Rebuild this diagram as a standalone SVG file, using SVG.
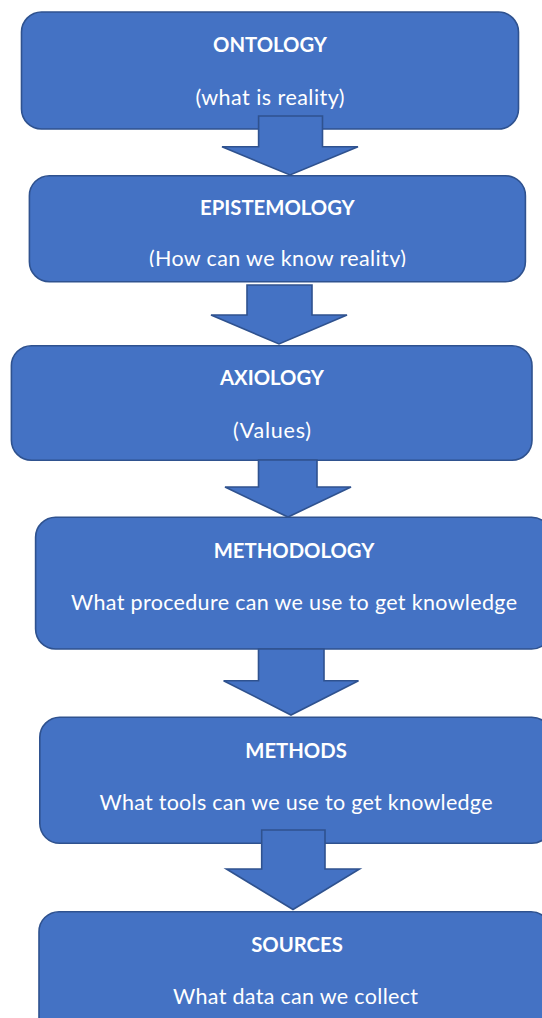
<svg xmlns="http://www.w3.org/2000/svg" width="542" height="1018" viewBox="0 0 542 1018">
<style>
.box{fill:#4472C4;stroke:#2F528F;stroke-width:1.6}
.arr{fill:#4472C4;stroke:#2F528F;stroke-width:1.6;stroke-linejoin:miter}
.t{font-family:Lato,"Liberation Sans",sans-serif;font-size:21.5px;fill:#ffffff;text-anchor:middle}
.b{font-weight:bold;font-size:20.3px}
</style>
<defs>
<clipPath id="clipEpi"><rect x="0" y="170" width="542" height="97"/></clipPath>
</defs>
<rect width="542" height="1018" fill="#ffffff"/>
<g id="ontology">
<rect class="box" x="21.5" y="12" width="497" height="117" rx="20"/>
<text class="t b" x="270" y="52">ONTOLOGY</text>
<text class="t" x="270" y="105" textLength="149">(what is reality)</text>
</g>
<g id="epistemology">
<rect class="box" x="29.4" y="175.7" width="496" height="106" rx="20"/>
<text class="t b" x="277.4" y="215">EPISTEMOLOGY</text>
<text class="t" x="277.4" y="266" textLength="257" clip-path="url(#clipEpi)">(How can we know reality)</text>
</g>
<g id="axiology">
<rect class="box" x="11.4" y="345.7" width="520.6" height="114.5" rx="20"/>
<text class="t b" x="272" y="385">AXIOLOGY</text>
<text class="t" x="272" y="438" textLength="78">(Values)</text>
</g>
<g id="methodology">
<rect class="box" x="35.6" y="517.3" width="516" height="131.7" rx="20"/>
<text class="t b" x="294" y="558">METHODOLOGY</text>
<text class="t" x="294" y="610" textLength="446">What procedure can we use to get knowledge</text>
</g>
<g id="methods">
<rect class="box" x="39.8" y="717.3" width="512" height="126" rx="20"/>
<text class="t b" x="296" y="758">METHODS</text>
<text class="t" x="296" y="810" textLength="393">What tools can we use to get knowledge</text>
</g>
<g id="sources">
<rect class="box" x="39" y="911.7" width="512" height="130" rx="20"/>
<text class="t b" x="297" y="952">SOURCES</text>
<text class="t" x="295.5" y="1004" textLength="245">What data can we collect</text>
</g>
<g id="connectors">
<polygon class="arr" points="258.6,116 322.5,116 322.5,146.7 358,146.7 290,175 222,146.7 258.6,146.7"/>
<polygon class="arr" points="247,285 312,285 312,315 347,315 279,344 211,315 247,315"/>
<polygon class="arr" points="258.5,460 317,460 317,487 351,487 288,517 225,487 258.5,487"/>
<polygon class="arr" points="258.5,649 324,649 324,680.7 358.5,680.7 291,715 223.6,680.7 258.5,680.7"/>
<polygon class="arr" points="261.7,830 325,830 325,869 359.5,869 293,909.5 226.4,869 261.7,869"/>
</g>
</svg>
